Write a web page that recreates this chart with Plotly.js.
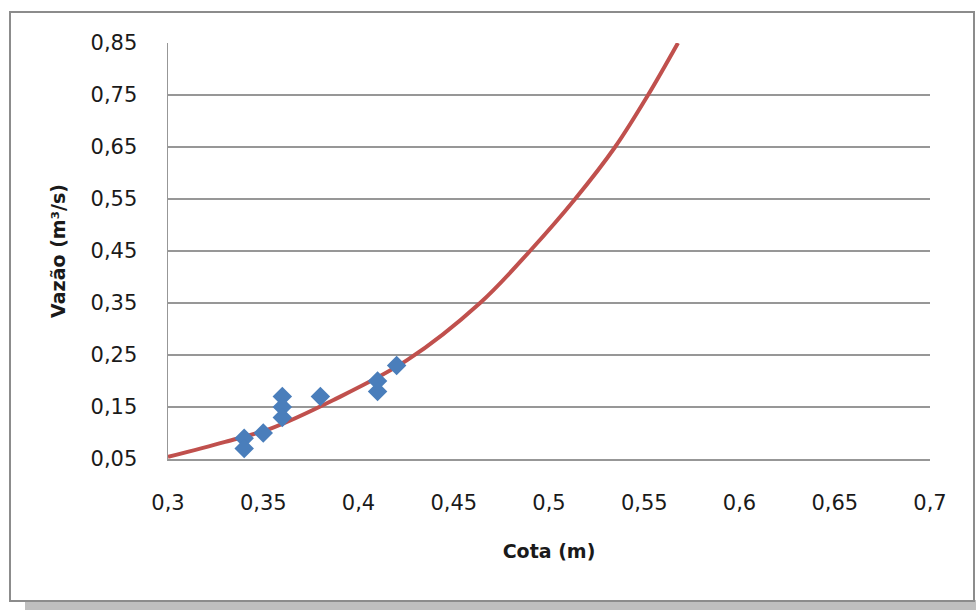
<!DOCTYPE html>
<html>
<head>
<meta charset="utf-8">
<script src="https://cdn.plot.ly/plotly-3.0.1.min.js"></script>
<style>
  html, body { margin: 0; padding: 0; background: #ffffff; }
  #wrap { position: relative; width: 976px; height: 610px; overflow: hidden; background: #ffffff; }
  #shadow { position: absolute; left: 25px; top: 600px; width: 951px; height: 10px; background: #bfbfbf; }
  #frame { position: absolute; left: 9px; top: 11px; width: 962px; height: 587px; border: 2px solid #8c8c8c; background: #ffffff; }
  #chart { position: absolute; left: 0; top: 0; width: 976px; height: 610px; }
</style>
</head>
<body>
<div id="wrap">
  <div id="shadow"></div>
  <div id="frame"></div>
  <div id="chart"></div>
</div>
<script>
// Observed data: Cota (m) vs Vazão (m³/s)
var cota = [0.34, 0.34, 0.35, 0.36, 0.36, 0.36, 0.38, 0.41, 0.41, 0.42];
var vazao = [0.09, 0.07, 0.10, 0.17, 0.15, 0.13, 0.17, 0.20, 0.18, 0.23];

// Rating curve, values
var curveCota = [0.300, 0.330, 0.3535, 0.3866, 0.4255, 0.4638, 0.490, 0.5137, 0.5347, 0.552, 0.5677];
var curveVazao = [0.054, 0.083, 0.108, 0.163, 0.240, 0.350, 0.450, 0.550, 0.650, 0.750, 0.850];

var xTitle = 'Cota (m)';
var yTitle = 'Vazão (m³/s)';

var gridColor = '#979797';
var fontFam = '"DejaVu Sans", sans-serif';

var traces = [
  {
    x: curveCota, y: curveVazao, type: 'scatter', mode: 'lines',
    line: { color: '#c0504d', width: 4, shape: 'spline', smoothing: 1 },
    hoverinfo: 'skip', showlegend: false
  },
  {
    x: cota, y: vazao, type: 'scatter', mode: 'markers',
    marker: { symbol: 'diamond', size: 15, color: '#4a7ebb', line: { width: 0 } },
    showlegend: false
  }
];

var layout = {
  width: 976, height: 610,
  paper_bgcolor: 'rgba(0,0,0,0)', plot_bgcolor: 'rgba(0,0,0,0)',
  margin: { l: 168, r: 46, t: 43, b: 151 },
  separators: ',.',
  showlegend: false,
  font: { family: fontFam, size: 21, color: '#1a1a1a' },
  xaxis: {
    range: [0.3, 0.7], tick0: 0.3, dtick: 0.05,
    showgrid: false, zeroline: false,
    showline: true, linecolor: gridColor, linewidth: 1.5,
    ticks: 'outside', ticklen: 24, tickcolor: 'rgba(0,0,0,0)',
    tickfont: { family: fontFam, size: 21, color: '#1a1a1a' },
    title: { text: xTitle, font: { family: fontFam, size: 19, color: '#1a1a1a', weight: 'bold' }, standoff: 31 }
  },
  yaxis: {
    range: [0.05, 0.85], tick0: 0.05, dtick: 0.1,
    showgrid: true, gridcolor: gridColor, gridwidth: 1.5, zeroline: false,
    showline: true, linecolor: gridColor, linewidth: 1.5,
    ticks: 'outside', ticklen: 25, tickcolor: 'rgba(0,0,0,0)',
    tickfont: { family: fontFam, size: 21, color: '#1a1a1a' },
    title: { text: yTitle, font: { family: fontFam, size: 19, color: '#1a1a1a', weight: 'bold' }, standoff: 20 }
  }
};

Plotly.newPlot('chart', traces, layout, { staticPlot: true, displayModeBar: false });
</script>
</body>
</html>
